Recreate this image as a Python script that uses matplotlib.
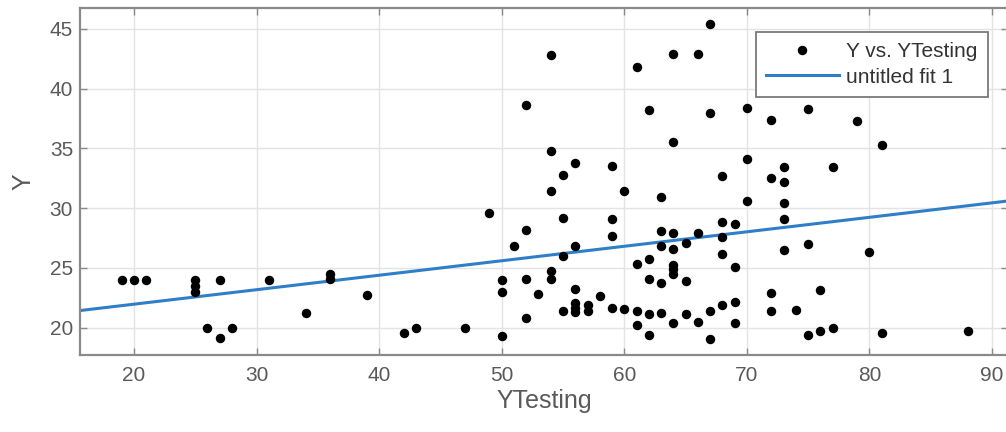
import matplotlib
matplotlib.use("Agg")
import matplotlib.pyplot as plt
import numpy as np

plt.rcParams["font.family"] = ["Liberation Sans", "DejaVu Sans"]

# scatter data
ytesting = [19, 20, 21, 25, 25, 25, 27, 26, 27, 28, 31, 34, 36, 36, 39, 42, 43, 47,
            49, 50, 50, 50, 51, 52, 52, 52, 52, 53, 54, 54, 54, 54, 54,
            55, 55, 55, 55, 56, 56, 56, 56, 56, 56, 57, 57, 58,
            59, 59, 59, 59, 60, 60, 61, 61, 61, 61, 62, 62, 62, 62, 62,
            63, 63, 63, 63, 63, 64, 64, 64, 64, 64, 64, 64, 64,
            65, 65, 65, 66, 66, 66, 67, 67, 67, 67,
            68, 68, 68, 68, 68, 69, 69, 69, 69, 70, 70, 70,
            72, 72, 72, 72, 73, 73, 73, 73, 73, 74, 75, 75, 75,
            76, 76, 77, 77, 79, 80, 81, 81, 88]
y = [24, 24, 24, 24, 23.5, 23, 24, 20, 19.1, 20, 24, 21.2, 24.5, 24.1, 22.7, 19.5, 20, 20,
     29.6, 24, 23, 19.3, 26.85, 38.6, 28.2, 24.05, 20.8, 22.8, 42.8, 34.8, 31.4, 24.75, 24.1,
     32.8, 29.2, 26.0, 21.4, 33.8, 26.85, 23.2, 22.05, 21.65, 21.3, 21.85, 21.35, 22.6,
     33.5, 29.1, 27.7, 21.6, 31.4, 21.55, 41.8, 25.35, 21.35, 20.2, 38.2, 25.7, 24.05, 21.1, 19.35,
     30.9, 28.05, 26.8, 23.7, 21.2, 42.9, 35.5, 27.9, 26.55, 25.25, 24.9, 24.5, 20.35,
     27.1, 23.9, 21.1, 42.9, 27.9, 20.45, 45.4, 38.0, 21.35, 19.0,
     32.7, 28.8, 27.6, 26.15, 21.9, 28.65, 25.1, 22.1, 20.35, 38.4, 34.1, 30.6,
     37.4, 32.5, 22.85, 21.35, 33.4, 32.2, 30.4, 29.1, 26.45, 21.5, 38.3, 27.0, 19.4,
     23.1, 19.7, 33.4, 19.95, 37.25, 26.3, 35.3, 19.55, 19.7]

# linear fit "untitled fit 1": slope, intercept
fit_coef = [0.1212, 19.53]

xlim = (15.6, 91.3)
ylim = (17.7, 46.75)
xticks = [20, 30, 40, 50, 60, 70, 80, 90]
yticks = [20, 25, 30, 35, 40, 45]

fig = plt.figure(figsize=(10.06, 4.32), dpi=100)
ax = fig.add_axes([80 / 1006, 1 - 355 / 432, 928 / 1006, 347 / 432])

ax.plot(ytesting, y, linestyle="none", marker="o", markersize=5.8,
        color="black", label="Y vs. YTesting", zorder=3)

xf = np.linspace(xlim[0], xlim[1], 2)
ax.plot(xf, np.polyval(fit_coef, xf), color="#2f7fc8", linewidth=2.2,
        label="untitled fit 1", zorder=2)

ax.set_xlim(*xlim)
ax.set_ylim(*ylim)
ax.set_xticks(xticks)
ax.set_yticks(yticks)
ax.grid(True, color="#e3e3e3", linewidth=1.0)
ax.set_axisbelow(True)

for spine in ax.spines.values():
    spine.set_color("#8a8a8a")
    spine.set_linewidth(1.6)

ax.tick_params(direction="in", top=True, right=True, length=5, width=1,
               color="#8a8a8a", labelsize=15, labelcolor="#5a5a5a")
ax.tick_params(axis="x", pad=8)
ax.tick_params(axis="y", pad=5)

ax.set_xlabel("YTesting", fontsize=18, color="#5a5a5a", labelpad=3)
ax.set_ylabel("Y", fontsize=18, color="#5a5a5a", labelpad=10)

leg = ax.legend(loc="upper right", bbox_to_anchor=(988 / 1006, 1 - 32 / 432),
                bbox_transform=fig.transFigure, borderaxespad=0,
                fontsize=15, frameon=True, fancybox=False, framealpha=1,
                handlelength=3.5, borderpad=0.5, labelspacing=0.3,
                handletextpad=0.35)
leg.get_frame().set_edgecolor("#7a7a7a")
leg.get_frame().set_linewidth(1.3)
for t in leg.get_texts():
    t.set_color("#333333")

fig.savefig("out.png", dpi=100, facecolor="white")
